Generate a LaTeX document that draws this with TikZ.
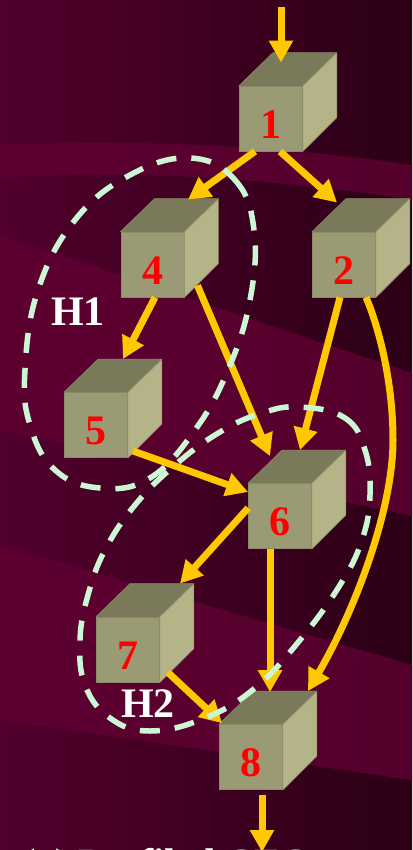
\documentclass[tikz,border=0pt]{standalone}
\usepackage{fontspec}
\setmainfont{Liberation Serif}
\usetikzlibrary{arrows.meta,calc}

\definecolor{bgL}{HTML}{52002C}
\definecolor{bgR}{HTML}{2C0016}
\definecolor{bandc}{HTML}{600032}
\definecolor{cubefront}{HTML}{9A9A74}
\definecolor{cubetop}{HTML}{7A7A5A}
\definecolor{cubeside}{HTML}{B5B488}
\definecolor{cubeedge}{HTML}{8A8A66}
\definecolor{flow}{HTML}{FFC800}
\definecolor{region}{HTML}{CCF7D4}
\definecolor{numred}{HTML}{FF0000}

\tikzset{
  blockface/.style={rectangle, minimum width=63pt, minimum height=65pt,
    inner sep=0pt, fill=cubefront, draw=cubeedge, line width=0.8pt},
  blocknum/.style={anchor=base, text=numred, inner sep=0pt,
    font=\fontsize{42}{42}\selectfont\bfseries},
  flowarrow/.style={draw=flow, line width=7pt,
    -{Triangle[length=22pt,width=23pt]}},
  hregion/.style={draw=region, line width=5.5pt, dash pattern=on 20pt off 15pt},
  hlabel/.style={text=white, inner sep=0pt,
    font=\fontsize{42}{42}\selectfont\bfseries},
}

% a basic block drawn as a cube: name, centre of front face (x,y), number
\newcommand\cubeblock[4]{%
  \node[blockface] (#1) at (#2,#3) {};
  \filldraw[fill=cubetop, draw=cubeedge, line width=0.6pt]
    (#1.north west) -- ++(34,-33) -- ++(63,0) -- (#1.north east) -- cycle;
  \filldraw[fill=cubeside, draw=cubeedge, line width=0.6pt]
    (#1.north east) -- ++(34,-33) -- ++(0,65) -- (#1.south east) -- cycle;
  \node[blocknum] (#1n) at ([yshift=13pt]#1.south) {#4};
}

\begin{document}
\begin{tikzpicture}[x=1pt, y=-1pt]
\useasboundingbox (0,0) rectangle (412,850);

% background with sweeping bands
\fill[left color=bgL, right color=bgR] (0,0) rectangle (412,850);
\fill[bandc, opacity=0.8] (0,145) .. controls (150,138) and (300,148) .. (412,165)
  -- (412,200) .. controls (300,182) and (150,168) .. (0,178) -- cycle;
\fill[bandc, opacity=0.8] (0,235) -- (412,373) -- (412,516) -- (0,430) -- cycle;
\fill[bandc, opacity=0.8] (0,545) -- (412,665) -- (412,780) -- (0,720) -- cycle;

% blocks
\cubeblock{b1}{271}{118.5}{1}
\cubeblock{b4}{152.5}{264.5}{4}
\cubeblock{b2}{344}{264.5}{2}
\cubeblock{b5}{96}{425}{5}
\cubeblock{b6}{280}{516}{6}
\cubeblock{b7}{128}{649.5}{7}
\cubeblock{b8}{251}{757}{8}

% control flow
\coordinate (entry) at (281,7);
\coordinate (exit) at (262,852);
\draw[flowarrow] (entry) -- ([xshift=10pt,yshift=23pt]b1.north);
\draw[flowarrow] ([xshift=-16pt]b1.south) -- ([xshift=35.5pt,yshift=32pt]b4.north);
\draw[flowarrow] ([xshift=9pt]b1.south) -- ([xshift=-7pt,yshift=29pt]b2.north);
\draw[flowarrow] ([xshift=2.5pt]b4.south) -- ([xshift=27pt,yshift=33pt]b5.north);
\draw[flowarrow] ([xshift=13pt,yshift=12pt]b4.south east) -- ([xshift=-10pt,yshift=27pt]b6.north);
\draw[flowarrow] ([xshift=-4pt]b2.south) -- ([xshift=20pt,yshift=33pt]b6.north);
\draw[flowarrow] ([xshift=22pt]b2.south) .. controls (378,325) and (393,380) .. (393,440)
  .. controls (393,510) and (355,610) .. ([xshift=57pt,yshift=33pt]b8.north);
\draw[flowarrow] ([xshift=5pt,yshift=7pt]b5.south east) -- ([yshift=24pt]b6.west);
\draw[flowarrow] ([yshift=8pt]b6.west) -- ([xshift=52pt,yshift=33pt]b7.north);
\draw[flowarrow] ([xshift=-10pt]b6.south) -- ([xshift=19pt,yshift=32pt]b8.north);
\draw[flowarrow] ([xshift=8pt,yshift=10pt]b7.south east) -- ([xshift=3pt,yshift=1pt]b8.north west);
\draw[flowarrow] ([xshift=11pt,yshift=-5pt]b8.south) -- (exit);

% regions
\draw[hregion] plot[smooth cycle, tension=0.7] coordinates {
  (190,158) (235,180) (254,230) (250,300) (228,370) (195,430) (150,478)
  (100,488) (55,470) (30,425) (25,370) (38,290) (75,220) (130,175)};
\draw[hregion] plot[smooth cycle, tension=0.7] coordinates {
  (300,407) (345,418) (365,450) (370,495) (362,540) (340,585) (300,640)
  (255,688) (205,718) (150,731) (110,718) (85,685) (80,640) (88,595)
  (105,550) (135,505) (175,465) (220,432) (262,413)};

\node[hlabel] (h1) at (78,312) {H1};
\node[hlabel] (h2) at (148,704) {H2};

% caption, running off the lower edge
\node[anchor=base west, text=white, inner sep=0pt,
  font=\fontsize{40}{40}\selectfont\bfseries] (caption) at (22,876) {(a) Profiled CFG};
\end{tikzpicture}
\end{document}
